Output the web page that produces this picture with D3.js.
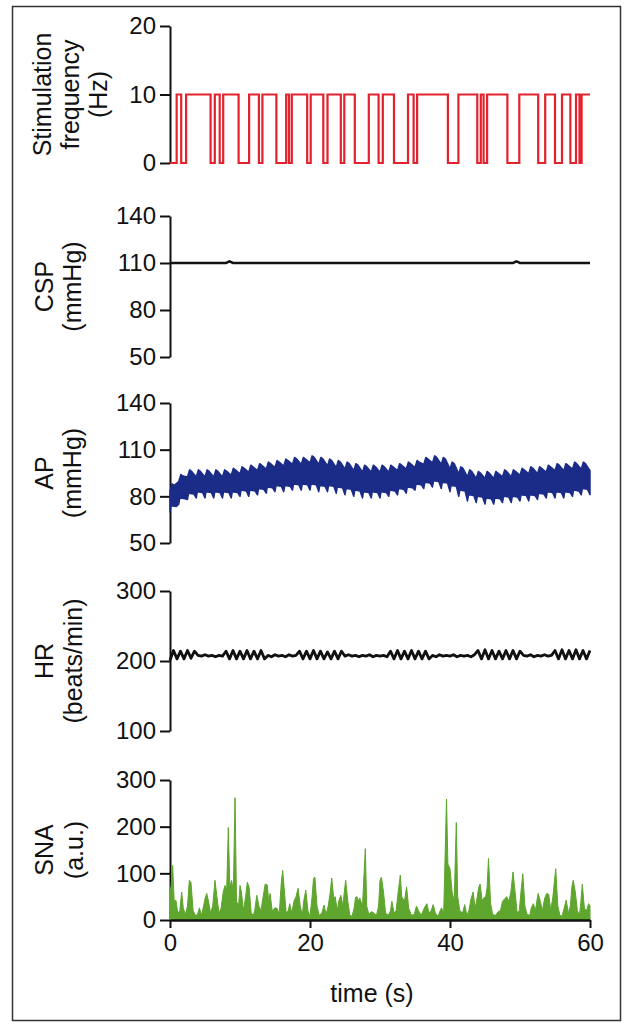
<!DOCTYPE html>
<html><head><meta charset="utf-8">
<script src="https://cdn.jsdelivr.net/npm/d3@7"></script>
<style>
html,body{margin:0;padding:0;background:#fff;}
svg{display:block;font-family:"Liberation Sans",Arial,Helvetica,sans-serif;}
</style></head><body>
<svg id="chart" width="631" height="1028"></svg>
<script>
// ---------------- data ----------------
const timeDomain = [0, 60];
const timeTicks = [0, 20, 40, 60];

const stimTicks = [0, 10, 20];
const cspTicks = [50, 80, 110, 140];
const apTicks = [50, 80, 110, 140];
const hrTicks = [100, 200, 300];
const snaTicks = [0, 100, 200, 300];

const stimLabel = ["Stimulation", "frequency", "(Hz)"];
const cspLabel = ["CSP", "(mmHg)"];
const apLabel = ["AP", "(mmHg)"];
const hrLabel = ["HR", "(beats/min)"];
const snaLabel = ["SNA", "(a.u.)"];
const timeLabel = "time (s)";

// stimulation frequency: [time (s), level (Hz) from that time on]
const stimSteps = [
  [0,0],[0.95,10],[1.6,0],[2.3,10],[5.8,0],[6.4,10],[7.1,0],[7.6,10],[9.8,0],[11.3,10],
  [12.7,0],[13.2,10],[15.2,0],[16.6,10],[17.0,0],[17.4,10],[19.6,0],[20.1,10],[21.9,0],[22.5,10],
  [24.4,0],[24.9,10],[26.4,0],[28.4,10],[29.8,0],[30.4,10],[32.0,0],[34.0,10],[34.8,0],[35.3,10],
  [39.7,0],[41.2,10],[43.9,0],[44.4,10],[44.8,0],[45.3,10],[48.2,0],[49.9,10],[52.6,0],[53.6,10],
  [55.0,0],[56.0,10],[57.2,0],[58.0,10],[58.5,0],[58.8,10],[60,10]
];

// carotid sinus pressure: [time, mmHg]
const cspSamples = [[0,110],[8.0,110],[8.5,111],[9.0,110],[30,110],[49.0,110],[49.5,111],[50,110],[60,110]];

// arterial pressure: per respiratory wave (every 1.25 s) upper peak and lower trough
const apWaveStep = 1.25;
const apPeak = [88,94,97,97,97,97,97,98,99,100,101,102,103,104,105,105,106,105,104,103,102,101,100,100,100,100,101,102,103,105,106,105,102,99,97,96,96,96,97,97,98,99,99,100,101,101,102,102,101];
const apTrough = [70,75,78,79,79,79,79,79,80,80,81,82,83,83,84,84,84,83,83,82,81,80,79,79,79,80,81,82,84,85,86,85,83,80,77,76,75,75,76,76,77,77,78,79,79,79,80,81,81];

// heart rate sampled every 0.5 s
const hrStep = 0.5;
const hrValues = [
  201,215,203,214,203,215,204,214,
  208,207,209,207,208,206,208,207,
  214,203,215,203,214,203,215,203,214,203,215,203,
  208,206,209,207,208,206,209,207,208,
  214,203,214,203,215,203,214,203,213,203,214,203,214,
  207,209,207,208,206,208,207,209,206,208,207,208,206,
  214,203,215,203,214,203,215,203,214,203,214,203,
  208,206,209,207,208,207,209,206,208,207,208,206,209,
  215,203,216,203,215,203,214,203,215,203,215,203,214,
  208,207,209,206,208,207,209,207,208,
  215,203,216,203,215,203,216,203,215,203,215
];

// sympathetic nerve activity: [time, a.u.]
const snaSamples = [
  [0,70],[0.1,60],[0.38,117],[0.6,40],[0.86,42],[1.1,15],[1.4,20],[1.67,60],[1.9,25],[2.2,12],[2.5,30],[2.76,85],[3.0,80],[3.3,20],
  [3.7,8],[4.0,15],[4.2,26],[4.5,10],[4.8,30],[5.0,45],[5.24,57],[5.5,40],[5.8,15],[6.1,30],[6.43,85],[6.7,50],[7.0,15],
  [7.3,25],[7.6,60],[7.86,74],[8.1,65],[8.33,198],[8.55,70],[8.8,85],[9.05,60],[9.29,262],[9.5,40],[9.8,30],[10.0,74],
  [10.2,60],[10.5,20],[10.8,50],[11.05,81],[11.3,70],[11.6,15],[11.9,10],[12.1,20],[12.4,53],[12.7,30],[13.0,20],[13.3,50],
  [13.6,77],[13.9,75],[14.1,40],[14.3,57],[14.6,20],[15.0,26],[15.3,25],[15.6,12],[15.9,80],[16.1,106],[16.3,70],[16.6,15],
  [16.9,20],[17.1,35],[17.4,15],[17.7,40],[18.0,50],[18.3,68],[18.6,30],[18.9,10],[19.1,40],[19.4,64],[19.7,20],[20.0,8],
  [20.3,50],[20.5,88],[20.7,92],[21.0,30],[21.3,10],[21.7,15],[22.0,32],[22.3,12],[22.6,30],[22.9,60],[23.1,90],[23.4,45],
  [23.6,50],[23.9,20],[24.1,40],[24.4,53],[24.7,30],[24.9,60],[25.1,85],[25.4,40],[25.7,10],[26.0,8],[26.3,25],[26.5,48],
  [26.7,50],[26.9,40],[27.1,47],[27.5,30],[27.9,153],[28.1,30],[28.4,12],[28.8,18],[29.1,15],[29.5,10],[29.8,30],[30.0,85],
  [30.2,92],[30.5,60],[30.8,15],[31.2,10],[31.5,20],[31.7,40],[32.0,15],[32.3,20],[32.6,60],[32.9,96],[33.1,50],[33.5,40],
  [33.8,71],[34.1,25],[34.5,10],[34.9,12],[35.2,30],[35.5,20],[35.9,10],[36.3,25],[36.7,35],[37.0,15],[37.3,20],[37.6,33],
  [37.9,15],[38.3,8],[38.6,20],[38.8,26],[39.1,15],[39.5,259],[39.7,120],[40.0,110],[40.3,60],[40.6,40],[40.9,209],[41.1,50],
  [41.4,20],[41.8,15],[42.1,33],[42.4,10],[42.7,20],[43.0,45],[43.3,60],[43.6,25],[43.9,50],[44.1,70],[44.3,77],[44.6,40],
  [44.8,47],[45.1,50],[45.3,70],[45.5,132],[45.8,35],[46.1,12],[46.5,10],[46.9,18],[47.2,20],[47.5,40],[47.8,45],[48.1,50],
  [48.4,40],[48.7,60],[49.0,103],[49.3,60],[49.6,15],[49.9,20],[50.2,70],[50.4,99],[50.7,30],[51.0,12],[51.4,10],[51.6,25],
  [51.9,35],[52.2,20],[52.4,40],[52.6,57],[52.9,40],[53.2,20],[53.5,45],[53.8,57],[54.1,55],[54.4,20],[54.7,50],[54.9,80],
  [55.1,110],[55.4,30],[55.7,10],[56.0,8],[56.3,25],[56.6,43],[56.9,15],[57.2,30],[57.4,70],[57.6,85],[57.9,60],[58.2,20],
  [58.5,10],[58.7,40],[58.9,77],[59.2,25],[59.5,20],[59.8,35],[60,30]
];

// ---------------- drawing ----------------
const svg = d3.select("#chart");
const RED = "#e3222d", BLUE = "#1b2c88", GREEN = "#5ea62e", INK = "#111";

svg.append("rect").attr("x", 12.5).attr("y", 6.5).attr("width", 608).attr("height", 1014)
  .attr("fill", "none").attr("stroke", "#333").attr("stroke-width", 1.5);

const x = d3.scaleLinear().domain(timeDomain).range([170, 590]);

function panel(domain, range, ticks, label, baselines) {
  const y = d3.scaleLinear().domain(domain).range(range);
  const g = svg.append("g").attr("transform", "translate(170,0)")
    .call(d3.axisLeft(y).tickValues(ticks).tickSize(10).tickSizeOuter(0).tickPadding(4).tickFormat(d3.format("d")));
  g.selectAll("path.domain").attr("stroke", INK).attr("stroke-width", 2);
  g.selectAll(".tick line").attr("stroke", INK).attr("stroke-width", 2);
  g.selectAll(".tick text").attr("fill", INK).style("font-size", "24px")
    .style("font-family", '"Liberation Sans",Arial,sans-serif');
  const cy = (range[0] + range[1]) / 2;
  const t = svg.append("g").attr("transform", `translate(0,${cy}) rotate(-90)`);
  label.forEach((s, i) => {
    t.append("text").attr("x", 0).attr("y", baselines[i]).attr("text-anchor", "middle")
      .attr("fill", INK).style("font-size", "25px").text(s);
  });
  return y;
}

// stimulation
const yStim = panel([0, 20], [163, 26], stimTicks, stimLabel, [51, 79, 107]);
svg.append("path").datum(stimSteps)
  .attr("d", d3.line().x(d => x(d[0])).y(d => yStim(d[1])).curve(d3.curveStepAfter))
  .attr("fill", "none").attr("stroke", RED).attr("stroke-width", 2.2);

// CSP
const yCsp = panel([50, 140], [357, 216], cspTicks, cspLabel, [53, 81]);
svg.append("path").datum(cspSamples)
  .attr("d", d3.line().x(d => x(d[0])).y(d => yCsp(d[1])))
  .attr("fill", "none").attr("stroke", INK).attr("stroke-width", 2.6);

// AP
const yAp = panel([50, 140], [543, 403], apTicks, apLabel, [53, 81]);
const upper = [], lower = [];
apPeak.forEach((p, k) => {
  const t0 = k * apWaveStep;
  upper.push([t0, p - 4.5]);
  if (t0 + 0.3 <= 60) upper.push([t0 + 0.3, p]);
  if (t0 + 0.6 <= 60) upper.push([t0 + 0.6, p - 1]);
});
apTrough.forEach((q, k) => {
  const t0 = k * apWaveStep;
  lower.push([t0, q]);
  if (t0 + 0.15 <= 60) lower.push([t0 + 0.15, q + 4]);
  if (t0 + 0.9 <= 60) lower.push([t0 + 0.9, q + 3.5]);
});
const band = upper.concat(lower.slice().reverse());
svg.append("path")
  .attr("d", d3.line().x(d => x(d[0])).y(d => yAp(d[1]))(band) + "Z")
  .attr("fill", BLUE).attr("stroke", BLUE).attr("stroke-width", 1.5).attr("stroke-linejoin", "round");

// HR
const yHr = panel([100, 300], [731, 591], hrTicks, hrLabel, [53, 82]);
svg.append("path").datum(hrValues)
  .attr("d", d3.line().x((d, i) => x(i * hrStep)).y(d => yHr(d)))
  .attr("fill", "none").attr("stroke", INK).attr("stroke-width", 2.8).attr("stroke-linejoin", "round");

// SNA
const ySna = panel([0, 300], [920, 780], snaTicks, snaLabel, [53, 83]);
svg.append("path").datum(snaSamples)
  .attr("d", d3.area().x(d => x(d[0])).y0(ySna(0)).y1(d => ySna(d[1])))
  .attr("fill", GREEN).attr("stroke", GREEN).attr("stroke-width", 1);

// x axis (bottom)
const gx = svg.append("g").attr("transform", "translate(0,920)")
  .call(d3.axisBottom(x).tickValues(timeTicks).tickSize(8).tickSizeOuter(0).tickPadding(6));
gx.selectAll("path.domain").attr("stroke", INK).attr("stroke-width", 2.4);
gx.selectAll(".tick line").attr("stroke", INK).attr("stroke-width", 2);
gx.selectAll(".tick text").attr("fill", INK).style("font-size", "24px")
  .style("font-family", '"Liberation Sans",Arial,sans-serif');

svg.append("text").attr("x", 372).attr("y", 1002).attr("text-anchor", "middle")
  .attr("fill", INK).style("font-size", "25px").text(timeLabel);
</script>
</body></html>
